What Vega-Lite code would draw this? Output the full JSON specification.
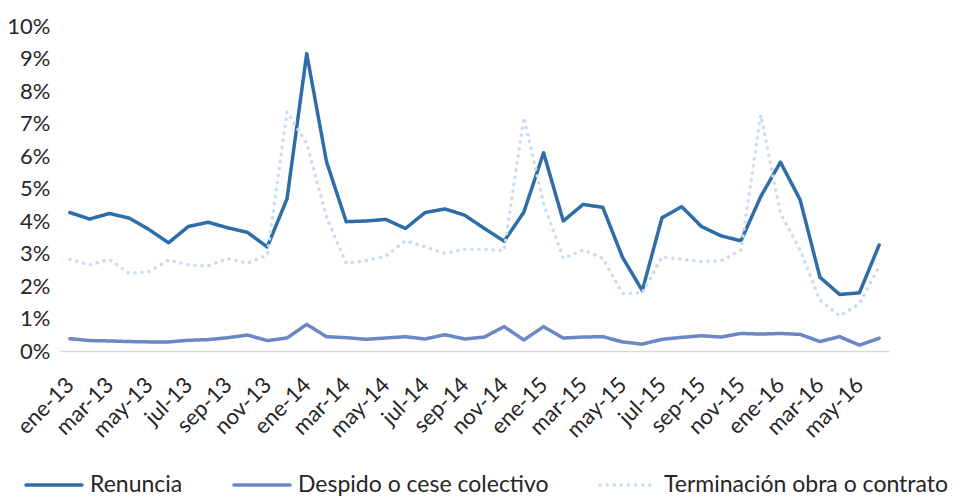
{
  "$schema": "https://vega.github.io/schema/vega-lite/v6.json",
  "width": 829,
  "height": 325,
  "autosize": {"type": "none"},
  "padding": {"left": 60, "top": 26, "right": 74, "bottom": 147},
  "background": "white",
  "config": {
    "view": {"stroke": null},
    "font": "Lato",
    "axis": {"labelFont": "Lato", "labelColor": "#262626", "grid": false, "ticks": false}
  },
  "data": {
    "values": [
      {"mes": "ene-13", "Renuncia": 4.26, "Despido o cese colectivo": 0.38, "Terminación obra o contrato": 2.82},
      {"mes": "feb-13", "Renuncia": 4.06, "Despido o cese colectivo": 0.32, "Terminación obra o contrato": 2.65},
      {"mes": "mar-13", "Renuncia": 4.23, "Despido o cese colectivo": 0.31, "Terminación obra o contrato": 2.82},
      {"mes": "abr-13", "Renuncia": 4.09, "Despido o cese colectivo": 0.29, "Terminación obra o contrato": 2.39},
      {"mes": "may-13", "Renuncia": 3.74, "Despido o cese colectivo": 0.28, "Terminación obra o contrato": 2.44},
      {"mes": "jun-13", "Renuncia": 3.33, "Despido o cese colectivo": 0.28, "Terminación obra o contrato": 2.8},
      {"mes": "jul-13", "Renuncia": 3.83, "Despido o cese colectivo": 0.33, "Terminación obra o contrato": 2.65},
      {"mes": "ago-13", "Renuncia": 3.96, "Despido o cese colectivo": 0.35, "Terminación obra o contrato": 2.62},
      {"mes": "sep-13", "Renuncia": 3.79, "Despido o cese colectivo": 0.41, "Terminación obra o contrato": 2.85},
      {"mes": "oct-13", "Renuncia": 3.65, "Despido o cese colectivo": 0.49, "Terminación obra o contrato": 2.7},
      {"mes": "nov-13", "Renuncia": 3.2, "Despido o cese colectivo": 0.32, "Terminación obra o contrato": 2.95},
      {"mes": "dic-13", "Renuncia": 4.68, "Despido o cese colectivo": 0.4, "Terminación obra o contrato": 7.36},
      {"mes": "ene-14", "Renuncia": 9.15, "Despido o cese colectivo": 0.82, "Terminación obra o contrato": 6.39},
      {"mes": "feb-14", "Renuncia": 5.83, "Despido o cese colectivo": 0.44, "Terminación obra o contrato": 4.12},
      {"mes": "mar-14", "Renuncia": 3.98, "Despido o cese colectivo": 0.41, "Terminación obra o contrato": 2.7},
      {"mes": "abr-14", "Renuncia": 4.0, "Despido o cese colectivo": 0.36, "Terminación obra o contrato": 2.78},
      {"mes": "may-14", "Renuncia": 4.05, "Despido o cese colectivo": 0.4, "Terminación obra o contrato": 2.92},
      {"mes": "jun-14", "Renuncia": 3.77, "Despido o cese colectivo": 0.44, "Terminación obra o contrato": 3.39},
      {"mes": "jul-14", "Renuncia": 4.26, "Despido o cese colectivo": 0.37, "Terminación obra o contrato": 3.21},
      {"mes": "ago-14", "Renuncia": 4.37, "Despido o cese colectivo": 0.5, "Terminación obra o contrato": 3.0},
      {"mes": "sep-14", "Renuncia": 4.18, "Despido o cese colectivo": 0.37, "Terminación obra o contrato": 3.13},
      {"mes": "oct-14", "Renuncia": 3.77, "Despido o cese colectivo": 0.43, "Terminación obra o contrato": 3.13},
      {"mes": "nov-14", "Renuncia": 3.38, "Despido o cese colectivo": 0.75, "Terminación obra o contrato": 3.09},
      {"mes": "dic-14", "Renuncia": 4.27, "Despido o cese colectivo": 0.34, "Terminación obra o contrato": 7.19},
      {"mes": "ene-15", "Renuncia": 6.1, "Despido o cese colectivo": 0.75, "Terminación obra o contrato": 4.54},
      {"mes": "feb-15", "Renuncia": 4.0, "Despido o cese colectivo": 0.4, "Terminación obra o contrato": 2.85},
      {"mes": "mar-15", "Renuncia": 4.51, "Despido o cese colectivo": 0.43, "Terminación obra o contrato": 3.11},
      {"mes": "abr-15", "Renuncia": 4.42, "Despido o cese colectivo": 0.44, "Terminación obra o contrato": 2.85},
      {"mes": "may-15", "Renuncia": 2.88, "Despido o cese colectivo": 0.28, "Terminación obra o contrato": 1.77},
      {"mes": "jun-15", "Renuncia": 1.86, "Despido o cese colectivo": 0.21, "Terminación obra o contrato": 1.79},
      {"mes": "jul-15", "Renuncia": 4.1, "Despido o cese colectivo": 0.36, "Terminación obra o contrato": 2.9},
      {"mes": "ago-15", "Renuncia": 4.44, "Despido o cese colectivo": 0.42, "Terminación obra o contrato": 2.82},
      {"mes": "sep-15", "Renuncia": 3.83, "Despido o cese colectivo": 0.47, "Terminación obra o contrato": 2.75},
      {"mes": "oct-15", "Renuncia": 3.54, "Despido o cese colectivo": 0.43, "Terminación obra o contrato": 2.78},
      {"mes": "nov-15", "Renuncia": 3.39, "Despido o cese colectivo": 0.54, "Terminación obra o contrato": 3.11},
      {"mes": "dic-15", "Renuncia": 4.75, "Despido o cese colectivo": 0.52, "Terminación obra o contrato": 7.26},
      {"mes": "ene-16", "Renuncia": 5.81, "Despido o cese colectivo": 0.54, "Terminación obra o contrato": 4.24},
      {"mes": "feb-16", "Renuncia": 4.65, "Despido o cese colectivo": 0.51, "Terminación obra o contrato": 3.11},
      {"mes": "mar-16", "Renuncia": 2.27, "Despido o cese colectivo": 0.29, "Terminación obra o contrato": 1.57},
      {"mes": "abr-16", "Renuncia": 1.74, "Despido o cese colectivo": 0.44, "Terminación obra o contrato": 1.08},
      {"mes": "may-16", "Renuncia": 1.79, "Despido o cese colectivo": 0.18, "Terminación obra o contrato": 1.45},
      {"mes": "jun-16", "Renuncia": 3.26, "Despido o cese colectivo": 0.39, "Terminación obra o contrato": 2.6}
    ]
  },
  "transform": [
    {"fold": ["Renuncia", "Despido o cese colectivo", "Terminación obra o contrato"], "as": ["serie", "valor"]}
  ],
  "mark": {"type": "line", "strokeWidth": 3.5, "strokeCap": "round", "strokeJoin": "round"},
  "encoding": {
    "x": {
      "field": "mes",
      "type": "ordinal",
      "sort": null,
      "scale": {"type": "point", "padding": 0.5},
      "axis": {
        "title": null,
        "values": ["ene-13","mar-13","may-13","jul-13","sep-13","nov-13","ene-14","mar-14","may-14","jul-14","sep-14","nov-14","ene-15","mar-15","may-15","jul-15","sep-15","nov-15","ene-16","mar-16","may-16"],
        "labelAngle": -45,
        "labelAlign": "right",
        "labelBaseline": "middle",
        "labelFontSize": 22,
        "labelPadding": 30,
        "labelOverlap": false,
        "domainColor": "#D9D9D9",
        "domainWidth": 1.5
      }
    },
    "y": {
      "field": "valor",
      "type": "quantitative",
      "scale": {"domain": [0, 10], "nice": false},
      "axis": {
        "title": null,
        "values": [0,1,2,3,4,5,6,7,8,9,10],
        "labelExpr": "datum.value + '%'",
        "labelFontSize": 22,
        "labelPadding": 10,
        "domain": false
      }
    },
    "color": {
      "field": "serie",
      "type": "nominal",
      "scale": {
        "domain": ["Renuncia", "Despido o cese colectivo", "Terminación obra o contrato"],
        "range": ["#2E6DA8", "#6B87C5", "#C8DCF1"]
      },
      "legend": {
        "title": null,
        "orient": "none",
        "direction": "horizontal",
        "legendX": -36,
        "legendY": 429,
        "symbolType": "stroke",
        "symbolSize": 3136,
        "symbolStrokeWidth": 3.5,
        "labelFontSize": 23,
        "labelLimit": 0,
        "labelColor": "#262626",
        "labelOffset": 6,
        "columnPadding": 44,
        "encode": {"symbols": {"update": {"strokeCap": {"value": "round"}}}}
      }
    },
    "strokeDash": {
      "field": "serie",
      "type": "nominal",
      "scale": {
        "domain": ["Renuncia", "Despido o cese colectivo", "Terminación obra o contrato"],
        "range": [[1, 0], [1, 0], [0.1, 7]]
      },
      "legend": null
    }
  }
}
